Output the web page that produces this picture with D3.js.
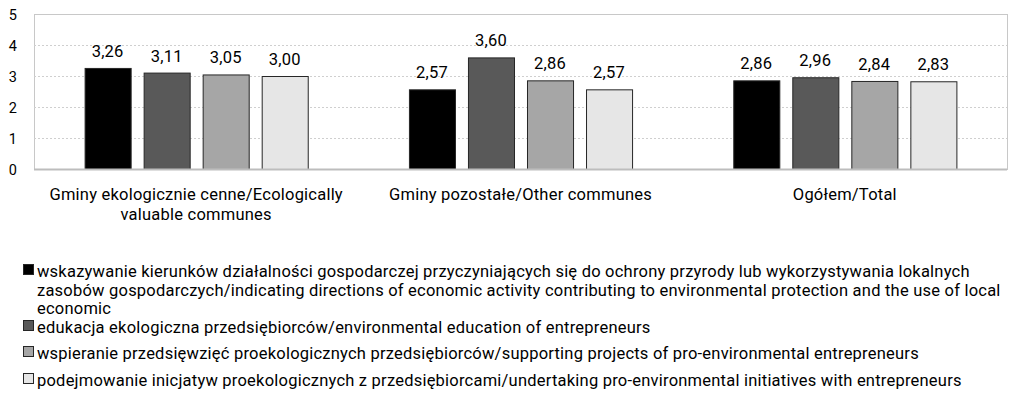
<!DOCTYPE html>
<html lang="pl">
<head>
    <meta charset="UTF-8">
    <title>Ocena działań gmin</title>
    <script src="https://d3js.org/d3.v7.min.js"></script>
    <style>
        body { margin: 0; background: #fff; }
        svg text { font-family: Roboto, "Open Sans", sans-serif; fill: #000; letter-spacing: 0.22px; }
    </style>
</head>
<body>
    <svg width="1023" height="406"></svg>

    <script>
        const width = 1023, height = 406;
        const margin = { top: 14, right: 16, bottom: 237, left: 34 };

        // data
        const groups = [
            ["Gminy ekologicznie cenne/Ecologically", "valuable communes"],
            ["Gminy pozostałe/Other communes"],
            ["Ogółem/Total"]
        ];
        const seriesNames = [
            ["wskazywanie kierunków działalności gospodarczej przyczyniających się do ochrony przyrody lub wykorzystywania lokalnych",
             "zasobów gospodarczych/indicating directions of economic activity contributing to environmental protection and the use of local",
             "economic"],
            ["edukacja ekologiczna przedsiębiorców/environmental education of entrepreneurs"],
            ["wspieranie przedsięwzięć proekologicznych przedsiębiorców/supporting projects of pro-environmental entrepreneurs"],
            ["podejmowanie inicjatyw proekologicznych z przedsiębiorcami/undertaking pro-environmental initiatives with entrepreneurs"]
        ];
        const values = [
            [3.26, 3.11, 3.05, 3.00],
            [2.57, 3.60, 2.86, 2.57],
            [2.86, 2.96, 2.84, 2.83]
        ];
        const yTicks = [0, 1, 2, 3, 4, 5];
        const colors = ["#000000", "#595959", "#a6a6a6", "#e6e6e6"];

        const svg = d3.select("svg");
        const plotW = width - margin.left - margin.right;
        const plotB = height - margin.bottom;
        const fs = "16.5px";

        const x0 = d3.scaleBand()
                     .domain(d3.range(groups.length))
                     .range([margin.left, width - margin.right])
                     .paddingInner(0.272)
                     .paddingOuter(0.136);

        const x1 = d3.scaleBand()
                     .domain(d3.range(seriesNames.length))
                     .range([0, x0.bandwidth()])
                     .paddingInner(0.22)
                     .paddingOuter(0.11);

        const y = d3.scaleLinear()
                    .domain([0, 5])
                    .range([plotB, margin.top]);

        // plot border
        svg.append("rect")
           .attr("x", margin.left + 0.5)
           .attr("y", margin.top + 0.5)
           .attr("width", plotW)
           .attr("height", plotB - margin.top)
           .attr("fill", "none")
           .attr("stroke", "#c8c8c8");

        // gridlines
        svg.append("g")
           .selectAll("line")
           .data(yTicks.filter(t => t > 0 && t < 5))
           .enter().append("line")
           .attr("x1", margin.left)
           .attr("x2", width - margin.right)
           .attr("y1", d => Math.round(y(d)) + 0.5)
           .attr("y2", d => Math.round(y(d)) + 0.5)
           .attr("stroke", "#cfcfcf")
           .attr("stroke-dasharray", "2,2");

        // y tick labels
        svg.append("g")
           .selectAll("text")
           .data(yTicks)
           .enter().append("text")
           .attr("x", 17)
           .attr("y", d => y(d) + 1)
           .attr("dy", "0.35em")
           .attr("text-anchor", "end")
           .style("font-size", "14.5px")
           .text(d => d);

        // bars
        const g = svg.selectAll(".grp")
                     .data(values)
                     .enter().append("g")
                     .attr("class", "grp")
                     .attr("transform", (d, i) => `translate(${x0(i)},0)`);

        g.selectAll("rect")
         .data(d => d)
         .enter().append("rect")
         .attr("x", (d, i) => x1(i) + 0.5)
         .attr("y", d => y(d) + 0.5)
         .attr("width", x1.bandwidth())
         .attr("height", d => plotB - y(d))
         .attr("fill", (d, i) => colors[i])
         .attr("stroke", "#262626")
         .attr("stroke-width", 1);

        g.selectAll("text")
         .data(d => d)
         .enter().append("text")
         .attr("x", (d, i) => x1(i) + x1.bandwidth() / 2)
         .attr("y", d => y(d) - 11)
         .attr("text-anchor", "middle")
         .style("font-size", fs)
         .text(d => d.toFixed(2).replace(".", ","));

        // x axis line
        svg.append("line")
           .attr("x1", margin.left)
           .attr("x2", width - margin.right)
           .attr("y1", plotB + 0.5)
           .attr("y2", plotB + 0.5)
           .attr("stroke", "#bdbdbd")
           .attr("stroke-width", 2);

        // category labels
        groups.forEach((lines, i) => {
            const cx = x0(i) + x0.bandwidth() / 2;
            const t = svg.append("text")
                         .attr("x", cx)
                         .attr("y", 200)
                         .attr("text-anchor", "middle")
                         .style("font-size", fs);
            lines.forEach((l, j) => {
                t.append("tspan")
                 .attr("x", cx)
                 .attr("dy", j === 0 ? 0 : 19.5)
                 .text(l);
            });
        });

        // legend
        const legendY = [277, 333, 359, 386];
        const legend = svg.append("g");
        seriesNames.forEach((lines, i) => {
            legend.append("rect")
                  .attr("x", 23.5)
                  .attr("y", legendY[i] - 12.5)
                  .attr("width", 10)
                  .attr("height", 10)
                  .attr("fill", colors[i])
                  .attr("stroke", "#262626");
            const t = legend.append("text")
                            .attr("x", 37)
                            .attr("y", legendY[i])
                            .style("font-size", fs);
            lines.forEach((l, j) => {
                t.append("tspan")
                 .attr("x", 37)
                 .attr("dy", j === 0 ? 0 : 18.5)
                 .text(l);
            });
        });
    </script>
</body>
</html>
